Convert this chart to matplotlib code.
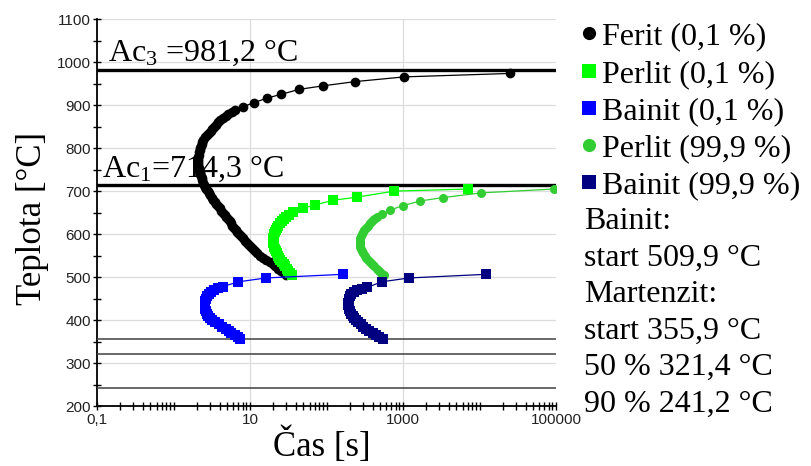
import matplotlib
matplotlib.use("Agg")
import matplotlib.pyplot as plt
from matplotlib.ticker import FixedLocator, FixedFormatter, MultipleLocator, NullFormatter

# --- transformation start curves (temperature in °C, time in s) ---
ferit_T = [974, 966, 955, 945, 937, 925, 917, 906, 897, 889, 885, 880, 875, 870, 865,
           860, 855, 850, 845, 840, 835, 830, 825, 820, 815, 810, 805, 800, 795,
           790, 785, 780, 775, 770, 765, 760, 755, 750, 745, 740, 735, 730, 725,
           720, 715, 710, 705, 700, 695, 690, 685, 680, 675, 670, 665, 660, 655,
           650, 645, 640, 635, 630, 625, 620, 615, 610, 605, 600, 595, 590, 585,
           580, 575, 570, 565, 560, 555, 550, 545, 540, 535, 530, 525, 520, 515,
           510, 505]
ferit_t = [25400, 1040, 236, 89, 44, 25.2, 16.9, 11.3, 8.2, 6.4, 5.8, 5.2, 4.8, 4.4, 4.1,
           3.85, 3.6, 3.4, 3.2, 3.05, 2.9, 2.75, 2.6, 2.45, 2.38, 2.33, 2.28, 2.24, 2.2,
           2.16, 2.13, 2.11, 2.1, 2.1, 2.11, 2.12, 2.14, 2.17, 2.2, 2.24, 2.28, 2.33, 2.39,
           2.45, 2.51, 2.58, 2.68, 2.8, 2.9, 3.0, 3.15, 3.3, 3.45, 3.63, 3.8, 4.0, 4.2,
           4.44, 4.65, 4.9, 5.15, 5.4, 5.65, 5.9, 6.2, 6.5, 6.8, 7.1, 7.55, 8.0, 8.5,
           9.1, 9.6, 10.2, 10.9, 11.6, 12.5, 13.5, 14.8, 16.3, 18.0, 19.8, 21.3, 23.0, 25.2,
           27.5, 30.0]

perlit01_T = [705, 700, 686, 679, 668, 660, 651, 645, 640, 635, 630, 625, 620, 615,
              610, 605, 600, 595, 590, 585, 580, 575, 570, 565, 560, 555, 550, 545,
              540, 535, 530, 525, 520, 515, 510, 506]
perlit01_t = [7100, 767, 248, 123, 71, 49, 37, 32.5, 29.5, 27.6, 26, 24.6, 23.5, 22.6,
              21.8, 21.1, 20.6, 20.3, 20.2, 20.1, 20.2, 20.4, 20.7, 21.1, 21.7, 22.3, 23.0, 24.0,
              25.0, 26.2, 27.5, 28.8, 30.2, 31.8, 33.5, 35]

bainit01_T = [506.5, 498, 489, 478, 474, 470, 465, 460, 455, 450, 445, 440, 435, 430,
              425, 420, 415, 410, 405, 400, 395, 390, 385, 380, 375, 370, 365, 360, 356]
bainit01_t = [166, 16.2, 7.05, 4.42, 3.8, 3.35, 3.1, 2.9, 2.77, 2.67, 2.61, 2.58, 2.57, 2.57,
              2.6, 2.65, 2.72, 2.82, 2.98, 3.2, 3.5, 3.9, 4.35, 4.9, 5.3, 5.7, 6.3, 6.9, 7.3]

perlit999_T = [705, 696, 685, 677, 666, 656, 646, 640, 635, 630, 625, 620, 615, 610,
               605, 600, 595, 590, 585, 580, 575, 570, 565, 560, 555, 550, 545, 540,
               535, 530, 525, 520, 515, 510, 505]
perlit999_t = [93300, 10600, 3290, 1660, 988, 674, 526, 460, 422, 395, 368, 345, 326, 310,
               298, 288, 281, 276, 273, 272, 274, 277, 283, 290, 302, 315, 332, 350,
               372, 395, 422, 452, 485, 520, 560]

bainit999_T = [506.5, 498, 489, 476, 473, 470, 465, 460, 455, 450, 445, 440, 435, 430,
               425, 420, 415, 410, 405, 400, 395, 390, 385, 380, 375, 370, 365, 360, 356]
bainit999_t = [12300, 1200, 526, 341, 290, 250, 228, 212, 204, 198, 195, 193, 193, 195,
               199, 204, 211, 220, 231, 245, 261, 280, 304, 330, 362, 400, 442, 490, 540]

series_labels = ["Ferit (0,1 %)", "Perlit (0,1 %)", "Bainit (0,1 %)",
                 "Perlit (99,9 %)", "Bainit (99,9 %)"]
series_colors = ["#000000", "#00ff00", "#0000ff", "#32cd32", "#000080"]
series_markers = ["o", "s", "s", "o", "s"]

# --- critical temperatures ---
ac3 = 981.2
ac1 = 714.3
bainit_start = 509.9
mart_start = 355.9
mart_50 = 321.4
mart_90 = 241.2

x_major = [0.1, 10, 1000, 100000]
x_major_labels = ["0,1", "10", "1000", "100000"]


def cz(v):
    return f"{v:.1f}".replace(".", ",")


plt.rcParams["font.family"] = ["Liberation Serif", "DejaVu Serif"]
plt.rcParams["mathtext.fontset"] = "custom"
plt.rcParams["mathtext.rm"] = "Liberation Serif"
plt.rcParams["mathtext.it"] = "Liberation Serif:italic"

W, H = 811, 466
fig = plt.figure(figsize=(W / 100, H / 100), dpi=100)
ax = fig.add_axes([97 / W, 1 - 406 / H, (556 - 97) / W, (406 - 19.3) / H])

ax.set_xscale("log")
ax.set_xlim(0.1, 1e5)
ax.set_ylim(200, 1100)

ax.xaxis.set_major_locator(FixedLocator(x_major))
ax.xaxis.set_major_formatter(FixedFormatter(x_major_labels))
minors = [k * 10.0 ** e for e in range(-1, 5) for k in range(1, 10)]
minors = [m for m in minors if 0.1 < m < 1e5 and not any(abs(m - M) < 1e-9 * M for M in x_major)]
ax.xaxis.set_minor_locator(FixedLocator(minors))
ax.xaxis.set_minor_formatter(NullFormatter())
ax.yaxis.set_major_locator(MultipleLocator(100))
ax.yaxis.set_minor_locator(MultipleLocator(50))

ax.tick_params(which="both", direction="inout", length=6, width=1.0, color="black",
               labelsize=11, labelcolor="#222222", labelfontfamily="Liberation Sans")
ax.tick_params(axis="y", pad=1.5)
ax.tick_params(axis="x", pad=2)

for s in ("top", "right"):
    ax.spines[s].set_visible(False)
for s in ("left", "bottom"):
    ax.spines[s].set_linewidth(1.3)
    ax.spines[s].set_color("black")

ax.set_axisbelow(True)
ax.yaxis.grid(True, which="major", color="#dcdcdc", lw=0.9)
ax.xaxis.grid(True, which="major", color="#dcdcdc", lw=0.9)
xg = ax.get_xgridlines()
xg[0].set_visible(False)
xg[-1].set_visible(False)

# critical temperature lines
ax.axhline(ac3, color="black", lw=2.4, zorder=3)
ax.axhline(ac1, color="black", lw=2.4, zorder=3)
for v in (mart_start, mart_50, mart_90):
    ax.axhline(v, color="#404040", lw=1.1, zorder=3)

ax.text(0.14, 1003, r"Ac$_{3}$" + " =" + cz(ac3) + " °C", fontsize=23,
        va="baseline", ha="left", zorder=2)
ax.text(0.117, 733, r"Ac$_{1}$" + "=" + cz(ac1) + " °C", fontsize=23,
        va="baseline", ha="left", zorder=2)

curves = [(ferit_t, ferit_T, 7.0), (perlit01_t, perlit01_T, 7.0),
          (bainit01_t, bainit01_T, 7.0), (perlit999_t, perlit999_T, 6.5),
          (bainit999_t, bainit999_T, 7.0)]
for (t, T, ms), c, m in zip(curves, series_colors, series_markers):
    ax.plot(t, T, color=c, lw=0.9, marker=m, ms=ms, mfc=c, mec=c, mew=0, zorder=4)

ax.set_xlabel("Čas [s]", fontsize=25, va="center")
ax.xaxis.set_label_coords((322 - 97) / 459, (406 - 446) / 386.7)
ax.set_ylabel("Teplota [°C]", fontsize=25, va="center")
ax.yaxis.set_label_coords((32.5 - 97) / 459, (406 - 218) / 386.7)

# legend and annotation block on the right
side = fig.add_axes([0, 0, 1, 1])
side.set_xlim(0, W)
side.set_ylim(H, 0)
side.axis("off")

row_y = [33, 71, 108, 145, 182]
for y, lab, c, m in zip(row_y, series_labels, series_colors, series_markers):
    side.plot([589], [y], marker=m, ms=9.5, color=c, mew=0, ls="none")
    side.text(602, y + 11, lab, fontsize=23, va="baseline", ha="left")

notes = ["Bainit:", "start " + cz(bainit_start) + " °C", "Martenzit:",
         "start " + cz(mart_start) + " °C", "50 % " + cz(mart_50) + " °C",
         "90 % " + cz(mart_90) + " °C"]
note_y = [218, 255, 291, 328, 364, 401]
for y, s in zip(note_y, notes):
    side.text(584, y + 11, s, fontsize=23, va="baseline", ha="left")

fig.savefig("out.png", dpi=100)
